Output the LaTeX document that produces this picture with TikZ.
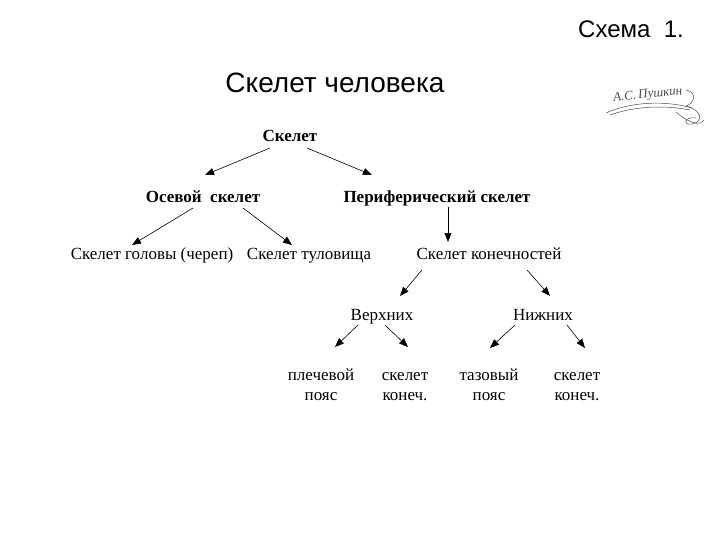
\documentclass[tikz,border=0pt]{standalone}
\usepackage{fontspec}
\setmainfont{Liberation Serif}
\newfontfamily\titlefont{Liberation Sans}
\usetikzlibrary{arrows.meta,calc}
\tikzset{
  lbl/.style={inner sep=0pt, anchor=base, font=\fontsize{17}{20}\selectfont, align=center},
  blbl/.style={inner sep=0pt, anchor=base, font=\fontsize{17}{20}\selectfont\bfseries},
  ttl/.style={inner sep=0pt, anchor=base, font=\titlefont\fontsize{28}{32}\selectfont},
  arr/.style={-{Triangle[length=9pt,width=7pt]}, line width=0.6pt},
  sig/.style={gray!60!black, line width=0.5pt}
}
\begin{document}
\begin{tikzpicture}[x=1pt,y=-1pt]
\useasboundingbox (0,0) rectangle (720,540);
\fill[white] (0,0) rectangle (720,540);
\node[ttl, font=\titlefont\fontsize{24}{28}\selectfont] (scheme) at (631,38) {Схема\ \ 1.};
\node[ttl] (title) at (335,93) {Скелет человека};
% signature
\node[inner sep=0pt, anchor=base, rotate=6, text=gray!60!black, font=\fontsize{13}{13}\selectfont\itshape] (sign) at (648,98) {А.С.\,Пушкин};
\draw[sig] (606,113) .. controls (630,102) and (665,100) .. (692,108);
\draw[sig] (610,115) .. controls (635,106) and (665,105) .. (690,110);
\draw[sig] (686,90) .. controls (698,92) and (694,104) .. (686,106) .. controls (702,110) and (704,122) .. (692,124) .. controls (682,126) and (684,116) .. (696,118);
\draw[sig] (676,112) .. controls (690,124) and (700,126) .. (704,120);

\node[blbl] (top) at (290,142) {Скелет};
\node[blbl] (axial) at (203,203) {Осевой\ \ скелет};
\node[blbl] (periph) at (437,203) {Периферический скелет};
\node[lbl] (head) at (152,259) {Скелет головы (череп)};
\node[lbl] (trunk) at (309,259) {Скелет туловища};
\node[lbl] (limbs) at (489,259) {Скелет конечностей};
\node[lbl] (upper) at (382,320) {Верхних};
\node[lbl] (lower) at (543,320) {Нижних};
\node[lbl] (shoulder) at (321,400) {плечевой\\пояс};
\node[lbl] (skel1) at (405,400) {скелет\\конеч.};
\node[lbl] (pelvis) at (489,400) {тазовый\\пояс};
\node[lbl] (skel2) at (577,400) {скелет\\конеч.};

\draw[arr] ($(top.base)+(-20,6)$) -- ($(axial.base)+(2,-28)$);
\draw[arr] ($(top.base)+(17,6)$) -- ($(periph.base)+(-65,-28)$);
\draw[arr] ($(axial.base)+(-10,5)$) -- ($(head.base)+(-20,-14)$);
\draw[arr] ($(axial.base)+(40,5)$) -- ($(trunk.base)+(-17,-14)$);
\draw[arr] ($(periph.base)+(11,4)$) -- ($(limbs.base)+(-41,-17)$);
\draw[arr] ($(limbs.base)+(-67,11)$) -- ($(upper.base)+(18,-24)$);
\draw[arr] ($(limbs.base)+(38,11)$) -- ($(lower.base)+(7,-24)$);
\draw[arr] ($(upper.base)+(-24,5)$) -- ($(shoulder.base)+(14,-53)$);
\draw[arr] ($(upper.base)+(3,5)$) -- ($(skel1.base)+(3,-53)$);
\draw[arr] ($(lower.base)+(-28,5)$) -- ($(pelvis.base)+(1,-52)$);
\draw[arr] ($(lower.base)+(24,5)$) -- ($(skel2.base)+(8,-52)$);
\end{tikzpicture}
\end{document}
